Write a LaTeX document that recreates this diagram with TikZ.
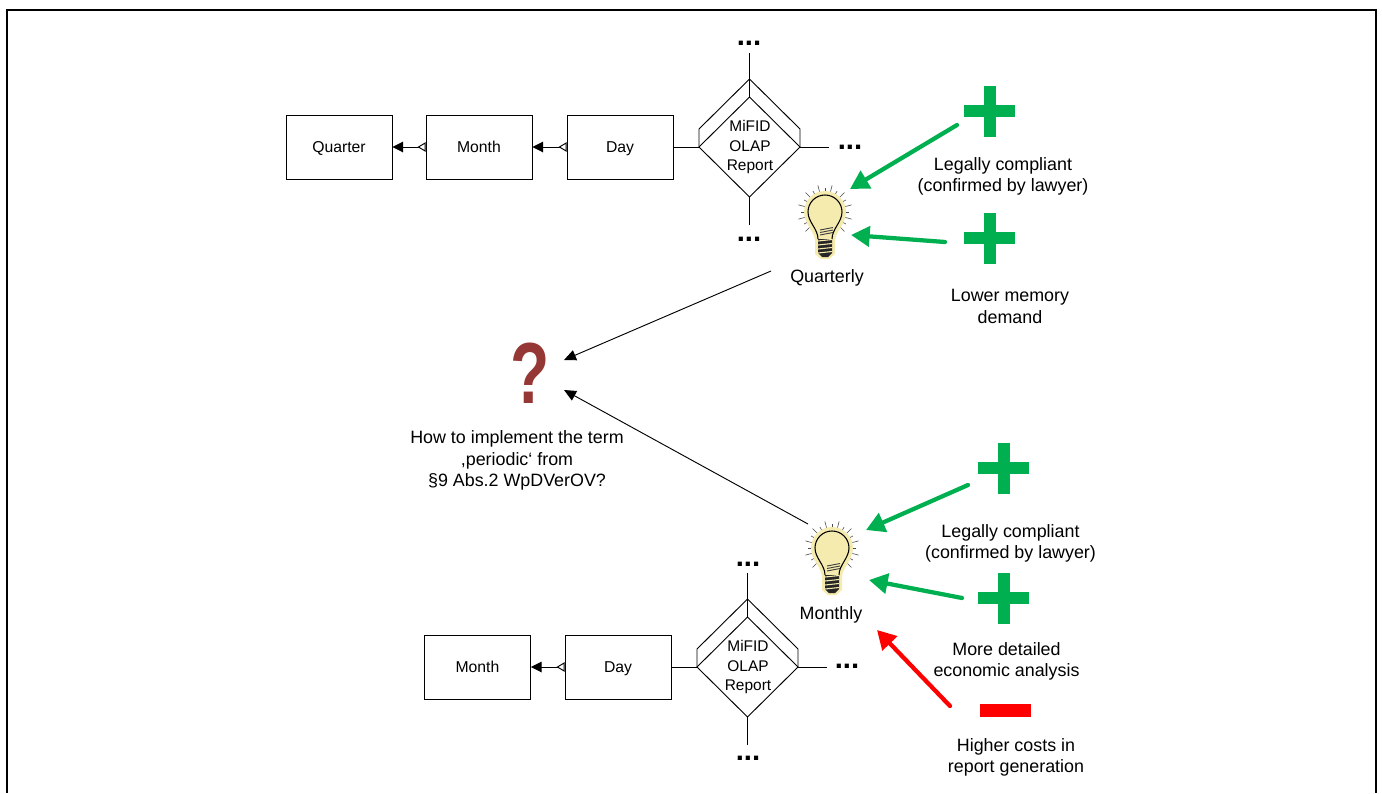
\documentclass[tikz,border=0pt]{standalone}
\usepackage{fontspec}
\setmainfont{Liberation Sans}
\usetikzlibrary{arrows.meta}
\definecolor{plusgreen}{HTML}{00B050}
\definecolor{minusred}{HTML}{FF0000}
\definecolor{askred}{HTML}{953735}
\definecolor{glow}{HTML}{F5EBAE}
\tikzset{
  frame/.style={draw=black, line width=1.5pt},
  dim/.style={draw=black, minimum width=79.5pt, minimum height=48pt, inner sep=0pt, line width=0.7pt, text height=7.5pt, text depth=0pt, font=\fontsize{11.8}{13}\selectfont},
  lbl/.style={align=center, inner sep=0pt, font=\fontsize{13.4}{16.3}\selectfont},
  rep/.style={align=center, inner sep=0pt, font=\fontsize{11.6}{14.6}\selectfont},
  dots/.style={inner sep=0pt, font=\bfseries\fontsize{22}{22}\selectfont},
  fact/.style={draw=black, line width=0.7pt},
  rollup/.style={draw=black, line width=0.7pt, {Triangle[open, reversed, fill=white, length=6pt, width=7pt]}-{Triangle[length=8pt, width=8pt]}},
  good/.style={draw=plusgreen, line width=3.2pt, line cap=round, -{Triangle[length=14pt, width=15pt]}},
  bad/.style={draw=minusred, line width=3.2pt, line cap=round, -{Triangle[length=14pt, width=15pt]}},
  why/.style={draw=black, line width=0.7pt, -{Triangle[length=9pt, width=8pt]}},
  plus/.style={fill=plusgreen},
  bulb/.pic={
    \foreach \a [count=\i] in {135,150,...,405}
      \draw[black!70, line width=0.45pt] (\a:21) -- (\a:{24+3.5*mod(\i,2)});
    \fill[glow] (-10,42) -- (-10,29) .. controls (-10,20) and (-21,12) .. (-21,0)
      .. controls (-21,-11.6) and (-11.6,-21) .. (0,-21)
      .. controls (11.6,-21) and (21,-11.6) .. (21,0)
      .. controls (21,12) and (10,20) .. (10,29) -- (10,42) -- (4,47) -- (-4,47) -- cycle;
    \draw[black, line width=0.8pt] (-7,27) .. controls (-7,17) and (-17,10) .. (-17,0)
      .. controls (-17,-9.4) and (-9.4,-17) .. (0,-17)
      .. controls (9.4,-17) and (17,-9.4) .. (17,0)
      .. controls (17,10) and (7,17) .. (7,27);
    \foreach \y in {17,19.5,22}
      \draw[black!75, line width=0.7pt] (-5,\y+1) -- (8,\y-1.5);
    \fill[black!85] (-7,27) -- (7,27) -- (7,41) -- (3,45) -- (-3,45) -- (-7,41) -- cycle;
    \foreach \y in {29,33,37,41}
      \draw[glow, line width=0.8pt] (-7,\y) -- (7,\y-1.5);
  }
}
\newcommand{\plussign}[2]{%
  \fill[plus] (#1-25.5,#2-6) rectangle (#1+25.5,#2+6);
  \fill[plus] (#1-6,#2-25.5) rectangle (#1+6,#2+25.5);
}
\begin{document}
\begin{tikzpicture}[x=0.75pt,y=-0.75pt]
\useasboundingbox (0,0) rectangle (1382,793);
\draw[frame] (7,793) -- (7,9.5) -- (1376,9.5) -- (1376,793);

% upper star
\node[dim] (quarter1) at (339,147) {Quarter};
\node[dim] (month1) at (479,147) {Month};
\node[dim] (day1) at (620,147) {Day};
\coordinate (left1) at (699,147);
\coordinate (right1) at (800,147);
\coordinate (top1) at (749.5,79);
\coordinate (in1) at (749.5,97);
\coordinate (bot1) at (749.5,197);
\draw[fact] (left1) -- (in1) -- (right1) -- (bot1) -- cycle;
\draw[fact] (left1) -- (699,129) -- (top1) -- (800,129) -- (right1);
\node[rep] (report1) at (750,147) {MiFID\\OLAP\\Report};
\node[dots] (dotst1) at (749,43) {...};
\node[dots] (dotsr1) at (850,147) {...};
\node[dots] (dotsb1) at (749,239) {...};
\coordinate (endt1) at (749.5,53);
\coordinate (endr1) at (829,147);
\coordinate (endb1) at (749.5,225);
\draw[fact] (endt1) -- (in1);
\draw[fact] (right1) -- (endr1);
\draw[fact] (bot1) -- (endb1);
\draw[fact] (day1.east) -- (left1);
\draw[rollup] (month1.west) -- (quarter1.east);
\draw[rollup] (day1.west) -- (month1.east);

% quarterly option
\pic (bulb1) at (825,212) {bulb};
\node[lbl] (quarterly) at (827,277.5) {Quarterly};
\plussign{989.5}{111}
\plussign{989.5}{238}
\node[lbl] (legal1) at (1003,176.5) {Legally compliant\\(confirmed by lawyer)};
\node[lbl] (memory) at (1010,306.5) {Lower memory\\demand};
\coordinate (g1) at (957,125);
\coordinate (g1e) at (850,189);
\coordinate (g2) at (945,242);
\coordinate (g2e) at (851,235);
\draw[good] (g1) -- (g1e);
\draw[good] (g2) -- (g2e);

% question
\node[inner sep=0pt, text=askred, xscale=0.74, font=\bfseries\fontsize{65}{65}\selectfont] (ask) at (530.5,373) {?};
\node[lbl] (term) at (517,460.5) {How to implement the term\\,periodic‘ from\\§9 Abs.2 WpDVerOV?};
\coordinate (q1) at (771,271);
\coordinate (q1e) at (564,360);
\coordinate (q2) at (808,524);
\coordinate (q2e) at (564,390);
\draw[why] (q1) -- (q1e);
\draw[why] (q2) -- (q2e);

% monthly option
\pic (bulb2) at (832,548) {bulb};
\node[lbl] (monthly) at (831,615) {Monthly};
\plussign{1003.5}{468}
\plussign{1003.5}{598}
\fill[minusred] (980,704) rectangle (1031,717);
\node[lbl] (legal2) at (1010.5,543.5) {Legally compliant\\(confirmed by lawyer)};
\node[lbl] (econ) at (1006.5,661.5) {More detailed\\economic analysis};
\node[lbl] (costs) at (1016,757.5) {Higher costs in\\report generation};
\coordinate (g3) at (968,485);
\coordinate (g3e) at (866,530);
\coordinate (g4) at (962,598);
\coordinate (g4e) at (869,580);
\coordinate (r1) at (950,706);
\coordinate (r1e) at (877,630);
\draw[good] (g3) -- (g3e);
\draw[good] (g4) -- (g4e);
\draw[bad] (r1) -- (r1e);

% lower star
\node[dim] (month2) at (477.5,667) {Month};
\node[dim] (day2) at (618,667) {Day};
\coordinate (left2) at (697,667);
\coordinate (right2) at (798,667);
\coordinate (top2) at (747.5,599);
\coordinate (in2) at (747.5,617);
\coordinate (bot2) at (747.5,717);
\draw[fact] (left2) -- (in2) -- (right2) -- (bot2) -- cycle;
\draw[fact] (left2) -- (697,649) -- (top2) -- (798,649) -- (right2);
\node[rep] (report2) at (748,667) {MiFID\\OLAP\\Report};
\node[dots] (dotst2) at (748,564) {...};
\node[dots] (dotsr2) at (847,666) {...};
\node[dots] (dotsb2) at (748,758) {...};
\coordinate (endt2) at (747.5,573);
\coordinate (endr2) at (827,667);
\coordinate (endb2) at (747.5,745);
\draw[fact] (endt2) -- (in2);
\draw[fact] (right2) -- (endr2);
\draw[fact] (bot2) -- (endb2);
\draw[fact] (day2.east) -- (left2);
\draw[rollup] (day2.west) -- (month2.east);
\end{tikzpicture}
\end{document}
